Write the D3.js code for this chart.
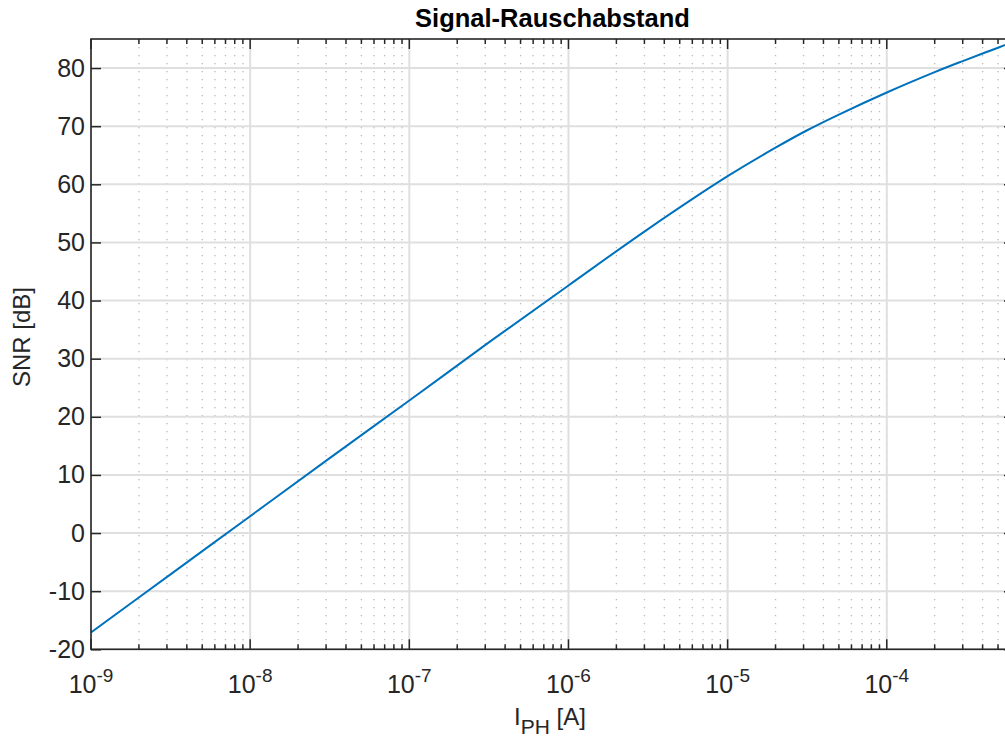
<!DOCTYPE html>
<html>
<head>
<meta charset="utf-8">
<script src="https://cdn.jsdelivr.net/npm/d3@7"></script>
<style>
  body { margin: 0; background: #fff; }
  svg { display: block; font-family: "Liberation Sans", Arial, sans-serif; }
</style>
</head>
<body>
<div class="chart"></div>
<script>
// photocurrent [A] and SNR [dB]
let current = [1e-9, 3.16e-9, 1e-8, 3.16e-8, 1e-7, 3.16e-7, 1e-6, 3.16e-6, 1e-5, 2e-5, 3.16e-5, 5e-5, 1e-4, 2e-4, 3e-4, 4e-4, 5e-4, 6.3e-4];
let snr     = [-17.1, -7.1, 2.9, 12.9, 22.8, 32.8, 42.6, 52.3, 61.4, 66.3, 69.3, 72.0, 75.8, 79.3, 81.2, 82.5, 83.5, 84.6];

let yTicks = [-20, -10, 0, 10, 20, 30, 40, 50, 60, 70, 80];
let xExponents = [-9, -8, -7, -6, -5, -4];

let margin = { top: 39, right: 0, bottom: 88, left: 91 };
let W = 1005, H = 737;
let width  = 923;
let height = 610.3;

let svg = d3.select(".chart")
    .append("svg")
        .attr("width", W)
        .attr("height", H);

let g = svg.append("g")
    .attr("transform", `translate(${margin.left}, ${margin.top})`);

let xScale = d3.scaleLog()
    .domain([1e-9, 6.3e-4])
    .range([0, width]);

let yScale = d3.scaleLinear()
    .domain([-20, 85])
    .range([height, 0]);

let majors = xExponents.map(e => Math.pow(10, e));
let minors = [];
xExponents.forEach(e => {
    d3.range(2, 10).forEach(k => {
        let v = k * Math.pow(10, e);
        if (v <= 6.3e-4) minors.push(v);
    });
});

// minor grid (x only, dotted)
g.append("g").selectAll("line")
    .data(minors)
    .enter()
    .append("line")
    .attr("x1", d => xScale(d)).attr("x2", d => xScale(d))
    .attr("y1", 0).attr("y2", height)
    .attr("stroke", "#b8b8b8")
    .attr("stroke-width", 1.3)
    .attr("stroke-dasharray", "1.3,6.7");

// major grid
g.append("g").selectAll("line")
    .data(majors)
    .enter()
    .append("line")
    .attr("x1", d => xScale(d)).attr("x2", d => xScale(d))
    .attr("y1", 0).attr("y2", height)
    .attr("stroke", "#dfdfdf")
    .attr("stroke-width", 2);

g.append("g").selectAll("line")
    .data(yTicks)
    .enter()
    .append("line")
    .attr("x1", 0).attr("x2", width)
    .attr("y1", d => yScale(d)).attr("y2", d => yScale(d))
    .attr("stroke", "#dfdfdf")
    .attr("stroke-width", 2);

// curve
g.append("clipPath").attr("id", "clip")
    .append("rect").attr("width", width).attr("height", height);

let line = d3.line()
    .x(d => xScale(d[0]))
    .y(d => yScale(d[1]))
    .curve(d3.curveCatmullRom.alpha(0.5));

g.append("path")
    .datum(d3.zip(current, snr))
    .attr("clip-path", "url(#clip)")
    .attr("d", line)
    .attr("fill", "none")
    .attr("stroke", "#0072BD")
    .attr("stroke-width", 2);

// axes
let axisColor = "#262626";

let drawTicks = (sel, vals, len, y, dir) => {
    sel.append("g").selectAll("line")
        .data(vals)
        .enter()
        .append("line")
        .attr("x1", d => xScale(d)).attr("x2", d => xScale(d))
        .attr("y1", y).attr("y2", y + dir * len)
        .attr("stroke", axisColor)
        .attr("stroke-width", 1.5);
};

drawTicks(g, majors, 10, height, -1);
drawTicks(g, minors, 5, height, -1);
drawTicks(g, majors, 10, 0, 1);
drawTicks(g, minors, 5, 0, 1);

let yLeft = d3.axisLeft(yScale)
    .tickValues(yTicks)
    .tickSizeInner(-10)
    .tickSizeOuter(0)
    .tickPadding(6)
    .tickFormat(d => String(d));
let yAx = g.append("g").call(yLeft);
yAx.attr("font-size", null).attr("font-family", null);
yAx.select(".domain").remove();
yAx.selectAll("line").attr("stroke", axisColor).attr("stroke-width", 1.5);
yAx.selectAll("text")
    .attr("fill", axisColor)
    .style("font-size", "25px");

let yRight = d3.axisRight(yScale).tickValues(yTicks).tickSizeInner(-10).tickSizeOuter(0).tickFormat("");
let yAxR = g.append("g").attr("transform", `translate(${width}, 0)`).call(yRight);
yAxR.select(".domain").remove();
yAxR.selectAll("line").attr("stroke", axisColor).attr("stroke-width", 1.5);

// frame
g.append("rect")
    .attr("width", width).attr("height", height)
    .attr("fill", "none")
    .attr("stroke", axisColor)
    .attr("stroke-width", 1.6);

// x tick labels 10^n
let xl = g.append("g").selectAll("text")
    .data(xExponents)
    .enter()
    .append("text")
    .attr("x", d => xScale(Math.pow(10, d)))
    .attr("y", height + 44)
    .attr("text-anchor", "middle")
    .attr("fill", axisColor)
    .style("font-size", "25px");
xl.append("tspan").text("10");
xl.append("tspan")
    .attr("dy", -11)
    .style("font-size", "19px")
    .text(d => "-" + Math.abs(d));

// title
svg.append("text")
    .attr("x", margin.left + width / 2)
    .attr("y", 27)
    .attr("text-anchor", "middle")
    .attr("fill", "#000")
    .style("font-size", "25.5px")
    .style("font-weight", "bold")
    .text("Signal-Rauschabstand");

// y label
svg.append("text")
    .attr("transform", `translate(30, 337) rotate(-90)`)
    .attr("text-anchor", "middle")
    .attr("fill", axisColor)
    .style("font-size", "24px")
    .text("SNR [dB]");

// x label
let xt = svg.append("text")
    .attr("x", 550)
    .attr("y", 725)
    .attr("text-anchor", "middle")
    .attr("fill", axisColor)
    .style("font-size", "24px");
xt.append("tspan").text("I");
xt.append("tspan").attr("dy", 9).style("font-size", "21px").text("PH");
xt.append("tspan").attr("dy", -9).text(" [A]");
</script>
</body>
</html>
